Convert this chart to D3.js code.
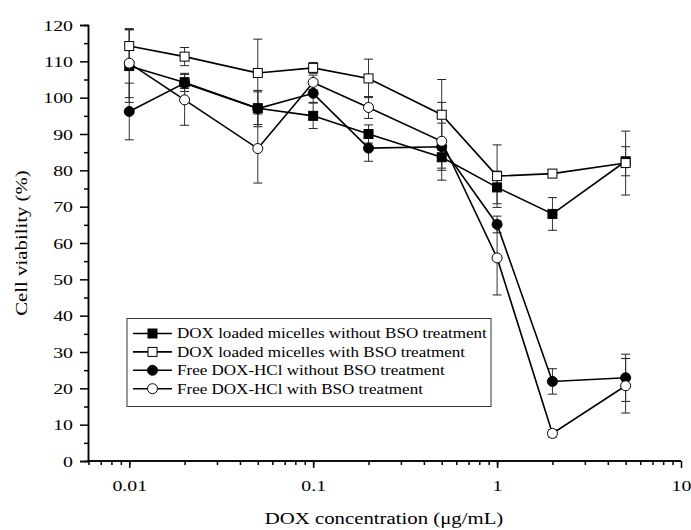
<!DOCTYPE html>
<html><head><meta charset="utf-8">
<script src="https://cdn.jsdelivr.net/npm/d3@7"></script>
<style>body{margin:0;background:#fff}</style>
</head><body><svg id="c" width="691" height="530"></svg>
<script>
const concentrations = [0.01, 0.02, 0.05, 0.1, 0.2, 0.5, 1, 2, 5];
const seriesNames = ["DOX loaded micelles without BSO treatment","DOX loaded micelles with BSO treatment","Free DOX-HCl without BSO treatment","Free DOX-HCl with BSO treatment"];
const micNoBSO = [108.7, 104.2, 97.1, 95.0, 90.0, 83.6, 75.3, 68.0, 82.5];
const micNoBSOErr = [10, 2.5, 4.5, 3.5, 2.5, 3.0, 4.5, 4.5, 4.0];
const micBSO = [114.2, 111.3, 106.8, 108.2, 105.3, 95.3, 78.4, 79.1, 82.0];
const micBSOErr = [4.5, 2.5, 9.3, 1.5, 5.3, 9.7, 8.6, 1.0, 8.8];
const freeNoBSO = [96.2, 104.0, 97.0, 101.2, 86.1, 86.5, 65.1, 21.9, 22.9];
const freeNoBSOErr = [7.8, 1.5, 5.0, 2.5, 3.6, 6.5, 2.3, 3.5, 6.5];
const freeBSO = [109.5, 99.4, 86.0, 104.2, 97.3, 88.0, 55.9, 7.6, 20.7];
const freeBSOErr = [9.5, 7.0, 9.5, 2.0, 3.0, 10.7, 10.2, 1.0, 7.5];
const yTicks = [0,10,20,30,40,50,60,70,80,90,100,110,120];
const xTickLabels = ["0.01","0.1","1","10"];

const FONT = "'Liberation Serif', Tinos, 'Times New Roman', serif";
const SX = 1.28;
const series = [
  {name: seriesNames[0], v: micNoBSO, e: micNoBSOErr, shape: "square", fill: "#000"},
  {name: seriesNames[1], v: micBSO, e: micBSOErr, shape: "square", fill: "#fff"},
  {name: seriesNames[2], v: freeNoBSO, e: freeNoBSOErr, shape: "circle", fill: "#000"},
  {name: seriesNames[3], v: freeBSO, e: freeBSOErr, shape: "circle", fill: "#fff"}
];

const svg = d3.select("#c");
const x = d3.scaleLog().domain([0.00593, 10]).range([87.5, 681]);
const y = d3.scaleLinear().domain([0, 120]).range([461, 25]);

// axes
const xMinor = [];
for (let d = 0.001; d < 10; d *= 10) for (let k = 1; k <= 9; k++) { const v = +(d*k).toPrecision(3); if (v >= 0.006 && v <= 10) xMinor.push(v); }
const gx = svg.append("g").attr("transform","translate(0,461)");
gx.call(d3.axisBottom(x).tickValues(xMinor).tickSize(4).tickFormat(""));
gx.append("g").call(d3.axisBottom(x).tickValues(xTickLabels.map(Number)).tickSize(7).tickPadding(6).tickFormat((d,i)=>xTickLabels[i]));
gx.selectAll("path.domain").attr("d","M87.5,0H681");

const yMinor = d3.range(5, 120, 10);
const gy = svg.append("g").attr("transform","translate(88,0)");
gy.call(d3.axisLeft(y).tickValues(yMinor).tickSize(4).tickFormat(""));
gy.append("g").call(d3.axisLeft(y).tickValues(yTicks).tickSize(8).tickPadding(7).tickFormat(d3.format("d")));

svg.selectAll(".domain").attr("stroke","#000").attr("stroke-width",1.5);
svg.selectAll(".tick line").attr("stroke","#000").attr("stroke-width",1.5);
svg.selectAll(".tick text").style("font-family",FONT).style("font-size","15.5px").attr("fill","#000");
gx.selectAll(".tick text").attr("x",0).attr("y",0).attr("dy",0).attr("transform",`translate(0,30) scale(${SX},1)`);
gy.selectAll(".tick text").attr("x",0).attr("dy","0.34em").attr("transform",`translate(-15,0) scale(${SX},1)`);

// axis titles
svg.append("text").attr("transform",`translate(384,524) scale(1.3,1)`).attr("text-anchor","middle").style("font-family",FONT).style("font-size","16px").text("DOX concentration (μg/mL)");
svg.append("text").attr("transform","translate(27,243) rotate(-90) scale(1.3,1)").attr("text-anchor","middle").style("font-family",FONT).style("font-size","16px").text("Cell viability (%)");

// error bars
const eg = svg.append("g");
series.forEach(s => {
  concentrations.forEach((c,i) => {
    const cx = x(c), t = y(s.v[i]+s.e[i]), b = y(s.v[i]-s.e[i]);
    eg.append("line").attr("x1",cx).attr("x2",cx).attr("y1",t).attr("y2",b).attr("stroke","#333").attr("stroke-width",1);
    [t,b].forEach(yy => eg.append("line").attr("x1",cx-4.5).attr("x2",cx+4.5).attr("y1",yy).attr("y2",yy).attr("stroke","#222").attr("stroke-width",1));
  });
});

// lines
const line = d3.line().x((d,i)=>x(concentrations[i])).y(d=>y(d));
series.forEach(s => svg.append("path").attr("d", line(s.v)).attr("fill","none").attr("stroke","#000").attr("stroke-width",1.6));

function marker(g, s, cx, cy) {
  if (s.shape === "square") g.append("rect").attr("x",cx-4.5).attr("y",cy-4.5).attr("width",9).attr("height",9).attr("fill",s.fill).attr("stroke","#000").attr("stroke-width",1);
  else g.append("circle").attr("cx",cx).attr("cy",cy).attr("r",5).attr("fill",s.fill).attr("stroke","#000").attr("stroke-width",1);
}
series.forEach(s => { const g = svg.append("g"); concentrations.forEach((c,i)=>marker(g, s, x(c), y(s.v[i]))); });

// legend
const lg = svg.append("g");
lg.append("rect").attr("x",127).attr("y",318.5).attr("width",364).attr("height",88).attr("fill","#fff").attr("stroke","#333").attr("stroke-width",1);
series.forEach((s,i) => {
  const yy = 333.5 + i*18.4;
  lg.append("line").attr("x1",133).attr("x2",172).attr("y1",yy).attr("y2",yy).attr("stroke","#000").attr("stroke-width",1.6);
  marker(lg, s, 152.5, yy);
  lg.append("text").attr("transform",`translate(177,${yy}) scale(1.2,1)`).attr("dy","0.35em").style("font-family",FONT).style("font-size","14.2px").text(s.name);
});
</script></body></html>
